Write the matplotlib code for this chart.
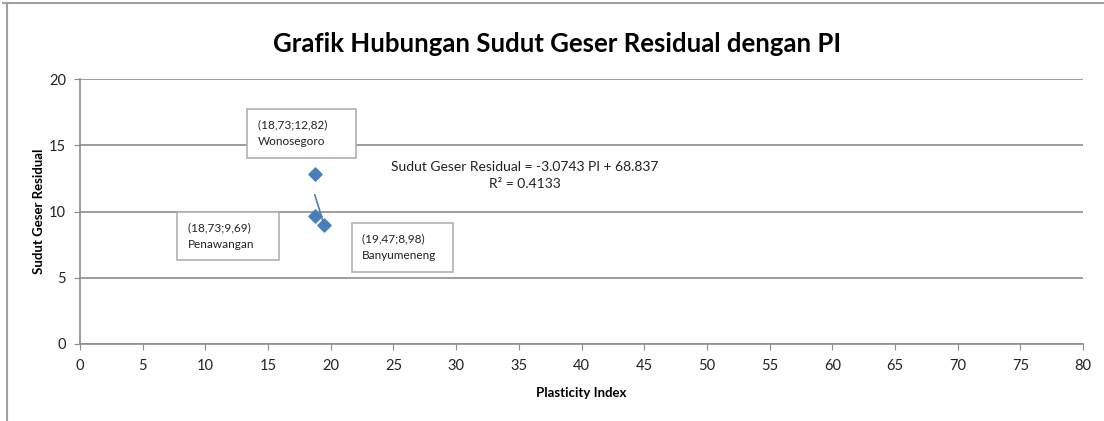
import matplotlib
matplotlib.use("Agg")
import matplotlib.pyplot as plt
from matplotlib.lines import Line2D
from matplotlib import font_manager

# data
pi_vals = [18.73, 18.73, 19.47]
sudut_vals = [12.82, 9.69, 8.98]
lokasi = ["Wonosegoro", "Penawangan", "Banyumeneng"]
label_pos = [(14.2, 15.9), (8.6, 8.15), (22.5, 7.3)]  # where the text boxes sit
slope, intercept, r2 = -3.0743, 68.837, 0.4133

fams = [f.name for f in font_manager.fontManager.ttflist]
font = "Liberation Sans Narrow" if "Liberation Sans Narrow" in fams else "Lato"
plt.rcParams['font.family'] = [font, 'DejaVu Sans']

fig = plt.figure(figsize=(11.04, 4.21), dpi=100)
ax = fig.add_axes([0.0725, 0.183, 0.9085, 0.629])

ax.scatter(pi_vals, sudut_vals, marker="D", s=45, color="#4a7ebb", zorder=3)

# linear trendline over the x range of the points
x0, x1 = min(pi_vals), max(pi_vals)
ax.plot([x0, x1], [slope * x0 + intercept, slope * x1 + intercept],
        color="#4a7ebb", lw=1.2, zorder=3)

for (x, y), nm, (lx, ly) in zip(zip(pi_vals, sudut_vals), lokasi, label_pos):
    ax.text(lx, ly, "(%s;%s)      \n%s" % (str(x).replace(".", ","), str(y).replace(".", ","), nm),
            fontsize=8.5, color="#222222", linespacing=1.6, va="center", ha="left",
            bbox=dict(boxstyle="square,pad=0.9", fc="white", ec="#b0b0b0", lw=1.2),
            zorder=4)

ax.text(35.5, 12.75, "Sudut Geser Residual = %.4f PI + %.3f\nR\u00b2 = %.4f" % (slope, intercept, r2),
        fontsize=10, ha="center", va="center", linespacing=1.5, color="#222222")

ax.set_xlim(0, 80)
ax.set_ylim(0, 20)
ax.set_xticks(range(0, 81, 5))
ax.set_yticks(range(0, 21, 5))
ax.grid(axis="y", color="#8c8c8c", lw=1.2)
ax.set_axisbelow(True)
for s in ["top", "right"]:
    ax.spines[s].set_visible(False)
for s in ["left", "bottom"]:
    ax.spines[s].set_color("#8c8c8c")
    ax.spines[s].set_linewidth(1.2)
ax.tick_params(colors="#8c8c8c", labelcolor="#222222", labelsize=10.5, length=4)
ax.tick_params(axis="x", pad=7)
ax.tick_params(axis="y", pad=6)

ax.set_xlabel("Plasticity Index", fontsize=9.5, fontweight="bold", labelpad=10)
ax.set_ylabel("Sudut Geser Residual", fontsize=9.5, fontweight="bold", labelpad=3)
fig.suptitle("Grafik Hubungan Sudut Geser Residual dengan PI", fontsize=18.5,
             fontweight="bold", x=0.505, y=0.925)

# chart frame (left and top edges visible)
fig.add_artist(Line2D([0.006, 0.006], [0.0, 0.993], color="#a0a0a0", lw=1.5))
fig.add_artist(Line2D([0.003, 1.0], [0.993, 0.993], color="#a0a0a0", lw=1.5))

fig.savefig("out.png", dpi=100)
